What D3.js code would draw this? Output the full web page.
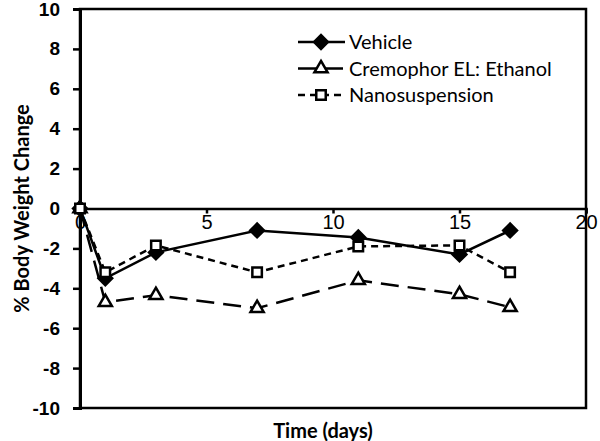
<!DOCTYPE html>
<html>
<head>
<meta charset="utf-8">
<script src="https://cdn.jsdelivr.net/npm/d3@7"></script>
<style>
  body { margin: 0; background: #fff; }
  svg { display: block; font-family: Lato, "Open Sans", "Liberation Sans", sans-serif; }
</style>
</head>
<body>
<div id="chart"></div>
<script>
// data
const days = [0, 1, 3, 7, 11, 15, 17];
const vehicle = [0, -3.5, -2.2, -1.1, -1.45, -2.3, -1.1];
const cremophor = [0, -4.7, -4.35, -5.0, -3.6, -4.3, -4.95];
const nanosuspension = [0, -3.2, -1.85, -3.2, -1.9, -1.85, -3.2];
const seriesNames = ["Vehicle", "Cremophor EL: Ethanol", "Nanosuspension"];
const xTicks = [0, 5, 10, 15, 20];
const yTicks = [-10, -8, -6, -4, -2, 0, 2, 4, 6, 8, 10];

const W = 600, H = 441;
const margin = { top: 9, right: 14, bottom: 33, left: 80 };
const width = W - margin.left - margin.right;
const height = H - margin.top - margin.bottom;

const svg = d3.select("#chart").append("svg")
    .attr("width", W)
    .attr("height", H);

const g = svg.append("g")
    .attr("transform", `translate(${margin.left},${margin.top})`);

const x = d3.scaleLinear().domain([0, 20]).range([0, width]);
const y = d3.scaleLinear().domain([-10, 10]).range([height, 0]);

// plain hyphen for negatives, like the original
const fmt = d => String(d);

// plot frame
g.append("rect")
    .attr("x", 0).attr("y", 0)
    .attr("width", width).attr("height", height)
    .attr("fill", "none")
    .attr("stroke", "#000")
    .attr("stroke-width", 2.5);

// y axis
const yAxis = d3.axisLeft(y).tickValues(yTicks).tickFormat(fmt).tickSize(7).tickPadding(13);
g.append("g").attr("class", "y-axis").call(yAxis)
    .call(a => a.select(".domain").attr("stroke-width", 3))
    .call(a => a.selectAll(".tick line").attr("stroke-width", 2.5))
    .call(a => a.selectAll("text")
        .attr("font-size", 19).attr("font-weight", "bold").attr("fill", "#000"));

// x axis sits at y = 0
const xAxis = d3.axisBottom(x).tickValues(xTicks).tickFormat(fmt).tickSize(5).tickPadding(1);
g.append("g").attr("class", "x-axis")
    .attr("transform", `translate(0,${y(0)})`)
    .call(xAxis)
    .call(a => a.select(".domain").attr("stroke-width", 2.5))
    .call(a => a.selectAll(".tick line").attr("stroke-width", 2.5))
    .call(a => a.selectAll("text")
        .attr("font-size", 20).attr("fill", "#000"));

// axis titles
svg.append("text")
    .attr("transform", `translate(29,${margin.top + y(0)}) rotate(-90)`)
    .attr("text-anchor", "middle")
    .attr("font-size", 20).attr("font-weight", "bold")
    .text("% Body Weight Change");

svg.append("text")
    .attr("x", 323).attr("y", 438)
    .attr("text-anchor", "middle")
    .attr("font-size", 20).attr("font-weight", "bold")
    .text("Time (days)");

const line = d3.line()
    .x((d, i) => x(days[i]))
    .y(d => y(d));

const styles = [
    { data: vehicle, dash: null, sym: d3.symbolSquare, rot: 45, size: 95, fill: "#000" },
    { data: cremophor, dash: "18,9", sym: d3.symbolTriangle, rot: 0, size: 75, fill: "#fff" },
    { data: nanosuspension, dash: "7,5", sym: d3.symbolSquare, rot: 0, size: 90, fill: "#fff" }
];

styles.forEach(s => {
    g.append("path")
        .datum(s.data)
        .attr("d", line)
        .attr("fill", "none")
        .attr("stroke", "#000")
        .attr("stroke-width", 2.5)
        .attr("stroke-dasharray", s.dash);
});

styles.forEach(s => {
    g.selectAll(null)
        .data(s.data)
        .join("path")
        .attr("transform", (d, i) => `translate(${x(days[i])},${y(d)}) rotate(${s.rot})`)
        .attr("d", d3.symbol().type(s.sym).size(s.size))
        .attr("fill", s.fill)
        .attr("stroke", "#000")
        .attr("stroke-width", 2.5);
});

// legend
const legend = svg.append("g").attr("transform", "translate(298,42)");
styles.forEach((s, i) => {
    const row = legend.append("g").attr("transform", `translate(0,${i * 26.5})`);
    row.append("line")
        .attr("x1", 0).attr("x2", 47)
        .attr("stroke", "#000").attr("stroke-width", 2.5)
        .attr("stroke-dasharray", s.dash);
    row.append("path")
        .attr("transform", `translate(23,0) rotate(${s.rot})`)
        .attr("d", d3.symbol().type(s.sym).size(s.size))
        .attr("fill", s.fill)
        .attr("stroke", "#000")
        .attr("stroke-width", 2.5);
    row.append("text")
        .attr("x", 51).attr("y", 7)
        .attr("font-size", 20)
        .text(seriesNames[i]);
});
</script>
</body>
</html>
